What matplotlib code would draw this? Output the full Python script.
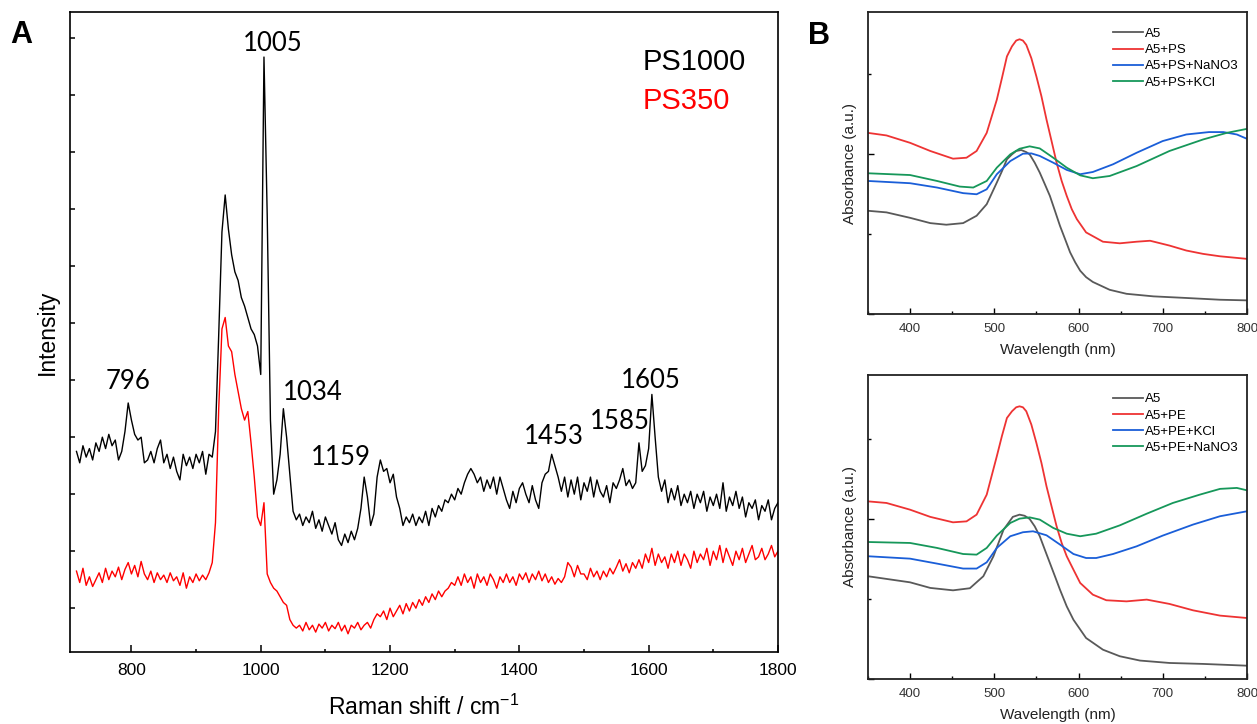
import numpy as np
import matplotlib
matplotlib.use("Agg")
import matplotlib.pyplot as plt
from matplotlib.ticker import MultipleLocator

plt.rcParams['font.family'] = ['Liberation Sans', 'DejaVu Sans']

# ---- panel A: Raman spectra, sampled every 5 cm-1 from 715 to 1800 ----
raman_shift = np.arange(715, 1801, 5)

ps1000 = [
    2.75, 2.55, 2.85, 2.65, 2.8, 2.6, 2.9, 2.75, 3.0, 2.8,        # 715
    3.05, 2.85, 2.95, 2.6, 2.75, 3.1, 3.6, 3.3, 3.05, 2.95,       # 765
    3.0, 2.55, 2.6, 2.75, 2.55, 2.8, 2.95, 2.55, 2.7, 2.45,       # 815
    2.65, 2.4, 2.25, 2.7, 2.5, 2.65, 2.45, 2.7, 2.55, 2.75,       # 865
    2.35, 2.7, 2.65, 3.1, 4.8, 6.6, 7.25, 6.65, 6.2, 5.9,         # 915
    5.75, 5.45, 5.3, 5.1, 4.9, 4.8, 4.6, 4.1, 9.67, 6.9,          # 965
    3.3, 2.0, 2.25, 2.7, 3.5, 3.0, 2.35, 1.7, 1.55, 1.65,         # 1015
    1.45, 1.6, 1.5, 1.7, 1.4, 1.55, 1.35, 1.6, 1.45, 1.3,         # 1065
    1.5, 1.2, 1.1, 1.3, 1.15, 1.35, 1.2, 1.4, 1.75, 2.3,          # 1115
    1.95, 1.45, 1.65, 2.3, 2.6, 2.4, 2.45, 2.2, 2.35, 1.95,       # 1165
    1.75, 1.45, 1.6, 1.5, 1.65, 1.45, 1.6, 1.5, 1.7, 1.45,        # 1215
    1.75, 1.6, 1.8, 1.7, 1.9, 1.85, 2.0, 1.9, 2.1, 2.0,           # 1265
    2.2, 2.35, 2.45, 2.35, 2.2, 2.3, 2.05, 2.25, 2.1, 2.3,        # 1315
    2.0, 2.3, 2.1, 1.9, 1.75, 2.05, 1.85, 2.1, 2.2, 2.0,          # 1365
    1.85, 2.15, 1.9, 1.75, 2.2, 2.35, 2.4, 2.7, 2.5, 2.3,         # 1415
    2.05, 2.3, 1.95, 2.25, 2.0, 2.3, 1.9, 2.2, 2.05, 2.3,         # 1465
    1.95, 2.25, 2.05, 1.95, 2.15, 1.85, 2.2, 2.1, 2.25, 2.45,     # 1515
    2.15, 2.25, 2.1, 2.2, 2.9, 2.4, 2.5, 2.8, 3.75, 3.0,          # 1565
    2.3, 2.05, 2.25, 1.85, 2.1, 1.9, 2.15, 1.8, 2.0, 1.85,        # 1615
    2.05, 1.75, 2.0, 1.85, 2.05, 1.7, 1.95, 1.8, 2.0, 1.75,       # 1665
    2.2, 1.7, 1.95, 1.8, 2.05, 1.75, 1.95, 1.6, 1.85, 1.75,       # 1715
    1.9, 1.55, 1.8, 1.7, 1.9, 1.55, 1.75, 1.85,                   # 1765
]

ps350 = [
    0.65, 0.45, 0.7, 0.4, 0.55, 0.38, 0.5, 0.62, 0.45, 0.7,       # 715
    0.5, 0.65, 0.55, 0.72, 0.5, 0.68, 0.8, 0.6, 0.75, 0.55,       # 765
    0.82, 0.6, 0.5, 0.65, 0.45, 0.62, 0.5, 0.58, 0.45, 0.62,      # 815
    0.48, 0.55, 0.4, 0.62, 0.35, 0.55, 0.45, 0.6, 0.48, 0.58,     # 865
    0.5, 0.62, 0.8, 1.5, 3.5, 4.9, 5.1, 4.6, 4.5, 4.1,            # 915
    3.8, 3.5, 3.3, 3.45, 2.9, 2.3, 1.6, 1.45, 1.85, 0.6,          # 965
    0.45, 0.35, 0.3, 0.2, 0.1, 0.05, -0.2, -0.3, -0.35, -0.3,     # 1015
    -0.4, -0.25, -0.38, -0.3, -0.42, -0.28, -0.35, -0.25, -0.4, -0.3,   # 1065
    -0.36, -0.25, -0.4, -0.3, -0.45, -0.3, -0.35, -0.25, -0.38, -0.3,   # 1115
    -0.25, -0.35, -0.2, -0.1, -0.15, -0.05, -0.2, 0.0, -0.15, -0.05,    # 1165
    0.05, -0.1, 0.08, -0.05, 0.1, 0.0, 0.15, 0.05, 0.2, 0.1,      # 1215
    0.25, 0.15, 0.3, 0.2, 0.3, 0.35, 0.45, 0.4, 0.55, 0.4,        # 1265
    0.6, 0.45, 0.55, 0.35, 0.6, 0.45, 0.55, 0.4, 0.6, 0.5,        # 1315
    0.35, 0.55, 0.45, 0.6, 0.45, 0.55, 0.4, 0.6, 0.5, 0.62,       # 1365
    0.45, 0.6, 0.5, 0.65, 0.48, 0.6, 0.45, 0.55, 0.42, 0.52,      # 1415
    0.45, 0.55, 0.8, 0.72, 0.55, 0.75, 0.6, 0.6, 0.5, 0.7,        # 1465
    0.55, 0.65, 0.5, 0.65, 0.55, 0.7, 0.6, 0.72, 0.85, 0.65,      # 1515
    0.78, 0.62, 0.8, 0.7, 0.85, 0.7, 0.95, 0.8, 1.05, 0.75,       # 1565
    0.95, 0.8, 0.9, 0.7, 0.95, 0.8, 1.0, 0.75, 0.95, 0.85,        # 1615
    0.7, 1.0, 0.8, 0.95, 0.85, 1.05, 0.75, 1.0, 0.85, 1.1,        # 1665
    0.8, 1.05, 0.9, 0.75, 1.0, 0.85, 1.05, 0.8, 0.95, 1.1,        # 1715
    0.85, 0.9, 1.05, 0.85, 0.95, 1.1, 0.9, 1.0,                   # 1765
]

peak_labels = ["796", "1005", "1034", "1159", "1453", "1585", "1605"]

# ---- panel B (top): UV-vis with PS ----
ps_a5_wl = [350, 372, 400, 424, 443, 463, 479, 491, 503, 509, 515, 521, 526,
            532, 538, 542, 548, 554, 560, 566, 572, 578, 584, 590, 596, 602,
            609, 617, 637, 657, 689, 728, 768, 800]
ps_a5 = [0.644, 0.634, 0.60, 0.567, 0.557, 0.567, 0.613, 0.685, 0.82, 0.89,
         0.965, 0.996, 1.017, 1.023, 1.01, 0.996, 0.944, 0.882, 0.81, 0.737,
         0.644, 0.55, 0.468, 0.385, 0.323, 0.27, 0.23, 0.2, 0.151, 0.126,
         0.11, 0.1, 0.089, 0.085]
ps_red_wl = [350, 372, 400, 424, 451, 467, 479, 491, 503, 509, 515, 521, 526,
             530, 534, 538, 544, 550, 556, 562, 568, 574, 580, 586, 592, 598,
             609, 629, 649, 669, 685, 708, 728, 748, 768, 800]
ps_red = [1.13, 1.114, 1.068, 1.017, 0.969, 0.975, 1.017, 1.13, 1.337, 1.47,
          1.607, 1.67, 1.706, 1.714, 1.706, 1.679, 1.596, 1.482, 1.358, 1.213,
          1.079, 0.944, 0.83, 0.737, 0.654, 0.592, 0.509, 0.451, 0.441, 0.451,
          0.457, 0.427, 0.396, 0.375, 0.36, 0.344]
ps_nano3_wl = [350, 400, 432, 463, 479, 491, 503, 519, 534, 544, 554, 570, 586,
               602, 617, 641, 669, 700, 728, 755, 772, 788, 800]
ps_nano3 = [0.83, 0.816, 0.789, 0.754, 0.747, 0.778, 0.872, 0.954, 1.0, 1.002,
            0.986, 0.944, 0.899, 0.872, 0.886, 0.934, 1.006, 1.079, 1.12, 1.135,
            1.135, 1.12, 1.093]
ps_kcl_wl = [350, 400, 432, 459, 475, 491, 503, 519, 530, 542, 554, 570, 586,
             602, 617, 637, 669, 708, 748, 776, 800]
ps_kcl = [0.878, 0.867, 0.83, 0.795, 0.789, 0.83, 0.913, 0.996, 1.031, 1.046,
          1.033, 0.975, 0.913, 0.865, 0.847, 0.861, 0.923, 1.017, 1.089, 1.13,
          1.155]

# ---- panel B (bottom): UV-vis with PE ----
pe_a5_wl = [350, 400, 424, 451, 471, 487, 499, 511, 522, 530, 536, 542, 548,
            554, 560, 566, 572, 578, 586, 594, 609, 629, 649, 673, 708, 748, 800]
pe_a5 = [0.642, 0.604, 0.569, 0.554, 0.567, 0.642, 0.767, 0.933, 1.013, 1.027,
         1.02, 1.0, 0.954, 0.892, 0.808, 0.725, 0.642, 0.558, 0.454, 0.37,
         0.256, 0.183, 0.142, 0.115, 0.1, 0.094, 0.083]
pe_red_wl = [350, 372, 400, 424, 451, 467, 479, 491, 503, 509, 515, 521, 526,
             530, 534, 538, 544, 550, 556, 562, 568, 574, 580, 586, 594, 602,
             617, 633, 657, 681, 708, 736, 768, 800]
pe_red = [1.11, 1.1, 1.058, 1.013, 0.979, 0.985, 1.027, 1.152, 1.392, 1.517,
          1.631, 1.673, 1.698, 1.704, 1.698, 1.673, 1.59, 1.475, 1.35, 1.204,
          1.079, 0.954, 0.85, 0.767, 0.683, 0.6, 0.527, 0.492, 0.485, 0.496,
          0.469, 0.429, 0.396, 0.381]
pe_kcl_wl = [350, 400, 432, 463, 479, 491, 503, 519, 534, 546, 562, 578, 594,
             609, 621, 641, 669, 700, 736, 768, 800]
pe_kcl = [0.767, 0.752, 0.721, 0.69, 0.69, 0.729, 0.819, 0.892, 0.917, 0.923,
          0.898, 0.84, 0.781, 0.756, 0.756, 0.781, 0.829, 0.896, 0.965, 1.017,
          1.048]
pe_nano3_wl = [350, 400, 432, 463, 479, 491, 503, 519, 530, 542, 554, 570, 586,
               602, 621, 649, 681, 712, 744, 768, 788, 800]
pe_nano3 = [0.856, 0.85, 0.819, 0.781, 0.777, 0.819, 0.896, 0.975, 1.002, 1.01,
            0.996, 0.944, 0.908, 0.892, 0.908, 0.96, 1.033, 1.1, 1.152, 1.188,
            1.194, 1.179]

c_gray = '#595959'
c_red = '#ee3333'
c_blue = '#1a5ed8'
c_green = '#16975a'

fig = plt.figure(figsize=(12.57, 7.24), dpi=100)

# ---------------- panel A ----------------
ax = fig.add_axes([0.0557, 0.0994, 0.5632, 0.884])
ax.plot(raman_shift, ps1000, color='black', linewidth=1.0)
ax.plot(raman_shift, ps350, color='#ff0000', linewidth=1.0)
ax.set_xlim(705, 1800)
ax.set_ylim(-0.77, 10.46)
ax.xaxis.set_major_locator(MultipleLocator(200))
ax.xaxis.set_minor_locator(MultipleLocator(100))
ax.yaxis.set_major_locator(MultipleLocator(1))
ax.set_yticklabels([])
ax.tick_params(axis='x', which='major', direction='in', length=4.8, width=1.1,
               labelsize=12.5, pad=8)
ax.tick_params(axis='x', which='minor', direction='in', length=2.4, width=1.1)
ax.tick_params(axis='y', direction='in', length=3.6, width=1.1)
for s in ax.spines.values():
    s.set_linewidth(1.2)
ax.set_xlabel(r"Raman shift / cm$^{\mathregular{-1}}$", fontsize=16.5)
ax.xaxis.set_label_coords(0.5, -0.067)
ax.set_ylabel("Intensity", fontsize=16.5)
ax.yaxis.label.set_va('center')
ax.yaxis.set_label_coords(-0.0325, 0.5)

label_xy = [(795, 3.98), (1018, 9.91), (1080, 3.79), (1124, 2.65),
            (1454, 3.02), (1556, 3.28), (1603, 4.0)]
for txt, (lx, ly) in zip(peak_labels, label_xy):
    ax.text(lx, ly, txt, ha='center', va='center', fontsize=18.5,
            family=['Lato', 'DejaVu Sans'])

ax.text(0.809, 0.922, "PS1000", transform=ax.transAxes, ha='left',
        va='center', fontsize=21, color='black')
ax.text(0.809, 0.861, "PS350", transform=ax.transAxes, ha='left',
        va='center', fontsize=21, color='#ff0000')

fig.text(21 / 1257, 1 - 35 / 724, "A", fontsize=22, fontweight='bold',
         ha='center', va='center')
fig.text(819 / 1257, 1 - 36 / 724, "B", fontsize=22, fontweight='bold',
         ha='center', va='center')


# ---------------- panel B ----------------
def style_uv(axb, top, leg_y):
    axb.set_xlim(350, 800)
    axb.set_ylim(0, top)
    axb.xaxis.set_major_locator(MultipleLocator(100))
    axb.xaxis.set_minor_locator(MultipleLocator(50))
    axb.yaxis.set_major_locator(MultipleLocator(1.0))
    axb.yaxis.set_minor_locator(MultipleLocator(0.5))
    axb.set_yticklabels([])
    axb.tick_params(which='major', direction='in', length=4.5, width=1.0,
                    labelsize=9.5, pad=6.5, labelcolor='#333333')
    axb.tick_params(which='minor', direction='in', length=2.5, width=1.0)
    for s in axb.spines.values():
        s.set_linewidth(1.3)
        s.set_color('#222222')
    axb.set_xlabel("Wavelength (nm)", fontsize=11, color='#222222')
    axb.xaxis.label.set_va('center')
    axb.xaxis.set_label_coords(0.5, -0.119)
    axb.set_ylabel("Absorbance (a.u.)", fontsize=11, color='#222222')
    axb.yaxis.label.set_va('center')
    axb.yaxis.set_label_coords(-0.0475, 0.5)
    axb.legend(loc='upper left', bbox_to_anchor=(0.646, leg_y), frameon=False,
               fontsize=9.5, handlelength=2.3, handletextpad=0.15,
               labelspacing=0.3, borderpad=0, borderaxespad=0)


axt = fig.add_axes([0.6905, 0.5663, 0.3015, 0.4171])
axt.plot(ps_a5_wl, ps_a5, color=c_gray, lw=1.3, label="A5")
axt.plot(ps_red_wl, ps_red, color=c_red, lw=1.3, label="A5+PS")
axt.plot(ps_nano3_wl, ps_nano3, color=c_blue, lw=1.3, label="A5+PS+NaNO3")
axt.plot(ps_kcl_wl, ps_kcl, color=c_green, lw=1.3, label="A5+PS+KCl")
style_uv(axt, 1.884, 0.948)

axb = fig.add_axes([0.6905, 0.0622, 0.3015, 0.4199])
axb.plot(pe_a5_wl, pe_a5, color=c_gray, lw=1.3, label="A5")
axb.plot(pe_red_wl, pe_red, color=c_red, lw=1.3, label="A5+PE")
axb.plot(pe_kcl_wl, pe_kcl, color=c_blue, lw=1.3, label="A5+PE+KCl")
axb.plot(pe_nano3_wl, pe_nano3, color=c_green, lw=1.3, label="A5+PE+NaNO3")
style_uv(axb, 1.9, 0.94)

fig.savefig("out.png", dpi=100)
